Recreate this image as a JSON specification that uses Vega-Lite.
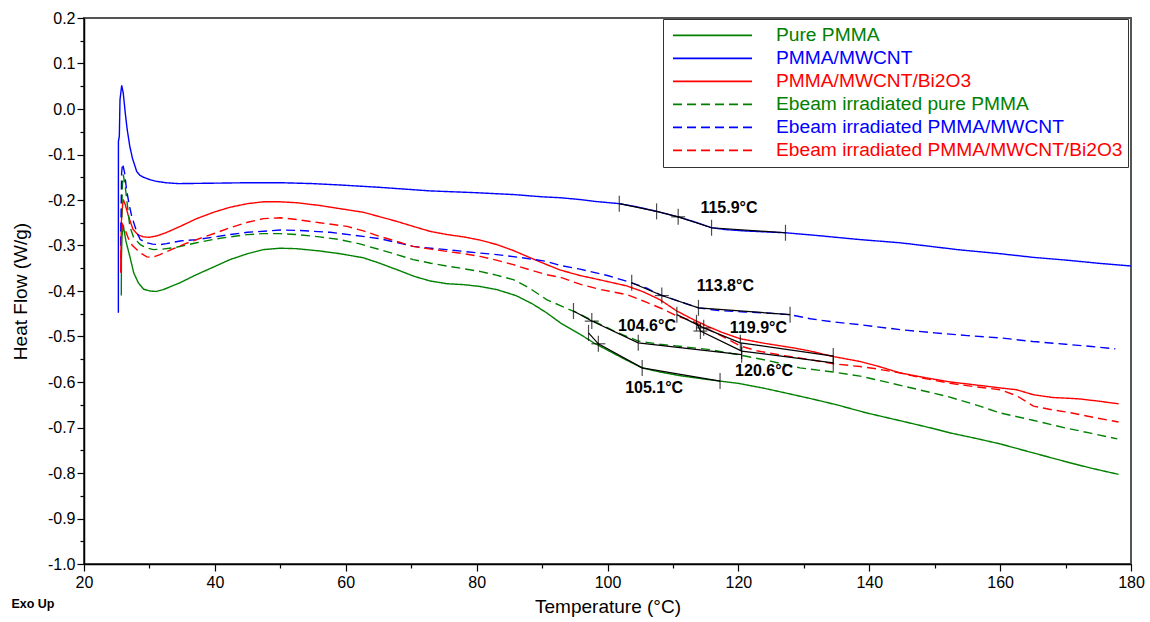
{
"$schema":"https://vega.github.io/schema/vega-lite/v6.json",
"width":1047,"height":546,
"autosize":{"type":"none"},
"padding":{"left":84,"top":18,"right":19,"bottom":58},
"config":{"view":{"stroke":"#555","strokeWidth":2},"font":"Liberation Sans",
"axis":{"labelFont":"Liberation Sans","titleFont":"Liberation Sans","labelFontSize":16,"titleFontSize":19,"titleFontWeight":"normal","labelColor":"black","titleColor":"black","domainColor":"black","tickColor":"black","grid":false,"domainWidth":1.5,"tickWidth":1.2}},
"title":{"text":"Exo Up","orient":"bottom","anchor":"start","frame":"bounds","fontSize":12.5,"fontWeight":"bold","font":"Liberation Sans","color":"black","offset":0,"dy":-18},
"datasets":{
"curves":[
{"s":"Pure PMMA","t":25.7,"v":-0.41},{"s":"Pure PMMA","t":25.72,"v":-0.33},{"s":"Pure PMMA","t":25.8,"v":-0.28},{"s":"Pure PMMA","t":26.0,"v":-0.255},{"s":"Pure PMMA","t":26.4,"v":-0.29},{"s":"Pure PMMA","t":27.0,"v":-0.324},{"s":"Pure PMMA","t":27.6,"v":-0.36},{"s":"Pure PMMA","t":28.3,"v":-0.382},{"s":"Pure PMMA","t":29.1,"v":-0.396},{"s":"Pure PMMA","t":30.1,"v":-0.4},{"s":"Pure PMMA","t":31.0,"v":-0.401},{"s":"Pure PMMA","t":32.1,"v":-0.397},{"s":"Pure PMMA","t":34.5,"v":-0.383},{"s":"Pure PMMA","t":37.2,"v":-0.364},{"s":"Pure PMMA","t":40,"v":-0.346},{"s":"Pure PMMA","t":42.3,"v":-0.331},{"s":"Pure PMMA","t":45,"v":-0.318},{"s":"Pure PMMA","t":47.4,"v":-0.309},{"s":"Pure PMMA","t":50,"v":-0.306},{"s":"Pure PMMA","t":52.5,"v":-0.307},{"s":"Pure PMMA","t":56,"v":-0.312},{"s":"Pure PMMA","t":59.1,"v":-0.318},{"s":"Pure PMMA","t":62.7,"v":-0.327},{"s":"Pure PMMA","t":65,"v":-0.338},{"s":"Pure PMMA","t":67.8,"v":-0.353},{"s":"Pure PMMA","t":70.5,"v":-0.368},{"s":"Pure PMMA","t":72.9,"v":-0.378},{"s":"Pure PMMA","t":75.5,"v":-0.384},{"s":"Pure PMMA","t":78,"v":-0.386},{"s":"Pure PMMA","t":80.5,"v":-0.39},{"s":"Pure PMMA","t":83.1,"v":-0.397},{"s":"Pure PMMA","t":86,"v":-0.41},{"s":"Pure PMMA","t":88.5,"v":-0.428},{"s":"Pure PMMA","t":90.7,"v":-0.448},{"s":"Pure PMMA","t":92.8,"v":-0.47},{"s":"Pure PMMA","t":95.8,"v":-0.495},{"s":"Pure PMMA","t":97.9,"v":-0.514},{"s":"Pure PMMA","t":100,"v":-0.53},{"s":"Pure PMMA","t":102.5,"v":-0.549},{"s":"Pure PMMA","t":105.3,"v":-0.569},{"s":"Pure PMMA","t":108,"v":-0.578},{"s":"Pure PMMA","t":111,"v":-0.586},{"s":"Pure PMMA","t":114,"v":-0.592},{"s":"Pure PMMA","t":117.2,"v":-0.598},{"s":"Pure PMMA","t":120,"v":-0.603},{"s":"Pure PMMA","t":124,"v":-0.614},{"s":"Pure PMMA","t":127.5,"v":-0.625},{"s":"Pure PMMA","t":131.5,"v":-0.638},{"s":"Pure PMMA","t":135,"v":-0.65},{"s":"Pure PMMA","t":139.6,"v":-0.668},{"s":"Pure PMMA","t":145,"v":-0.686},{"s":"Pure PMMA","t":150,"v":-0.703},{"s":"Pure PMMA","t":152.4,"v":-0.712},{"s":"Pure PMMA","t":156,"v":-0.723},{"s":"Pure PMMA","t":160,"v":-0.736},{"s":"Pure PMMA","t":165.1,"v":-0.756},{"s":"Pure PMMA","t":170,"v":-0.775},{"s":"Pure PMMA","t":173.8,"v":-0.789},{"s":"Pure PMMA","t":178.1,"v":-0.803},
{"s":"PMMA/MWCNT","t":25.25,"v":-0.448},{"s":"PMMA/MWCNT","t":25.26,"v":-0.071},{"s":"PMMA/MWCNT","t":25.4,"v":-0.06},{"s":"PMMA/MWCNT","t":25.5,"v":0.02},{"s":"PMMA/MWCNT","t":25.76,"v":0.052},{"s":"PMMA/MWCNT","t":26.0,"v":0.035},{"s":"PMMA/MWCNT","t":26.3,"v":-0.008},{"s":"PMMA/MWCNT","t":26.6,"v":-0.045},{"s":"PMMA/MWCNT","t":27.0,"v":-0.082},{"s":"PMMA/MWCNT","t":27.4,"v":-0.108},{"s":"PMMA/MWCNT","t":27.8,"v":-0.126},{"s":"PMMA/MWCNT","t":28.05,"v":-0.137},{"s":"PMMA/MWCNT","t":28.5,"v":-0.145},{"s":"PMMA/MWCNT","t":29.1,"v":-0.15},{"s":"PMMA/MWCNT","t":30,"v":-0.155},{"s":"PMMA/MWCNT","t":31.1,"v":-0.159},{"s":"PMMA/MWCNT","t":32.5,"v":-0.162},{"s":"PMMA/MWCNT","t":34.4,"v":-0.164},{"s":"PMMA/MWCNT","t":40,"v":-0.163},{"s":"PMMA/MWCNT","t":45,"v":-0.162},{"s":"PMMA/MWCNT","t":50,"v":-0.162},{"s":"PMMA/MWCNT","t":55,"v":-0.164},{"s":"PMMA/MWCNT","t":59.1,"v":-0.167},{"s":"PMMA/MWCNT","t":65,"v":-0.172},{"s":"PMMA/MWCNT","t":72.9,"v":-0.18},{"s":"PMMA/MWCNT","t":80,"v":-0.184},{"s":"PMMA/MWCNT","t":85.6,"v":-0.188},{"s":"PMMA/MWCNT","t":90,"v":-0.193},{"s":"PMMA/MWCNT","t":92.8,"v":-0.195},{"s":"PMMA/MWCNT","t":95.8,"v":-0.199},{"s":"PMMA/MWCNT","t":98,"v":-0.203},{"s":"PMMA/MWCNT","t":101.8,"v":-0.208},{"s":"PMMA/MWCNT","t":104.5,"v":-0.215},{"s":"PMMA/MWCNT","t":107.5,"v":-0.225},{"s":"PMMA/MWCNT","t":110.8,"v":-0.237},{"s":"PMMA/MWCNT","t":113.5,"v":-0.249},{"s":"PMMA/MWCNT","t":115.9,"v":-0.261},{"s":"PMMA/MWCNT","t":118,"v":-0.265},{"s":"PMMA/MWCNT","t":121,"v":-0.268},{"s":"PMMA/MWCNT","t":124,"v":-0.27},{"s":"PMMA/MWCNT","t":127.2,"v":-0.272},{"s":"PMMA/MWCNT","t":132,"v":-0.278},{"s":"PMMA/MWCNT","t":138.6,"v":-0.287},{"s":"PMMA/MWCNT","t":144.7,"v":-0.294},{"s":"PMMA/MWCNT","t":150,"v":-0.303},{"s":"PMMA/MWCNT","t":153.4,"v":-0.309},{"s":"PMMA/MWCNT","t":160,"v":-0.318},{"s":"PMMA/MWCNT","t":165,"v":-0.326},{"s":"PMMA/MWCNT","t":170,"v":-0.332},{"s":"PMMA/MWCNT","t":175,"v":-0.339},{"s":"PMMA/MWCNT","t":180,"v":-0.345},
{"s":"PMMA/MWCNT/Bi2O3","t":25.6,"v":-0.36},{"s":"PMMA/MWCNT/Bi2O3","t":25.7,"v":-0.25},{"s":"PMMA/MWCNT/Bi2O3","t":25.9,"v":-0.21},{"s":"PMMA/MWCNT/Bi2O3","t":26.0,"v":-0.199},{"s":"PMMA/MWCNT/Bi2O3","t":26.3,"v":-0.21},{"s":"PMMA/MWCNT/Bi2O3","t":26.8,"v":-0.236},{"s":"PMMA/MWCNT/Bi2O3","t":27.5,"v":-0.265},{"s":"PMMA/MWCNT/Bi2O3","t":28.3,"v":-0.277},{"s":"PMMA/MWCNT/Bi2O3","t":29.1,"v":-0.281},{"s":"PMMA/MWCNT/Bi2O3","t":30,"v":-0.282},{"s":"PMMA/MWCNT/Bi2O3","t":31.1,"v":-0.279},{"s":"PMMA/MWCNT/Bi2O3","t":32.5,"v":-0.272},{"s":"PMMA/MWCNT/Bi2O3","t":34.7,"v":-0.258},{"s":"PMMA/MWCNT/Bi2O3","t":37.2,"v":-0.241},{"s":"PMMA/MWCNT/Bi2O3","t":40,"v":-0.226},{"s":"PMMA/MWCNT/Bi2O3","t":42.3,"v":-0.216},{"s":"PMMA/MWCNT/Bi2O3","t":45,"v":-0.208},{"s":"PMMA/MWCNT/Bi2O3","t":47.4,"v":-0.204},{"s":"PMMA/MWCNT/Bi2O3","t":50,"v":-0.204},{"s":"PMMA/MWCNT/Bi2O3","t":52.5,"v":-0.206},{"s":"PMMA/MWCNT/Bi2O3","t":56,"v":-0.212},{"s":"PMMA/MWCNT/Bi2O3","t":59.1,"v":-0.219},{"s":"PMMA/MWCNT/Bi2O3","t":62.7,"v":-0.227},{"s":"PMMA/MWCNT/Bi2O3","t":65,"v":-0.236},{"s":"PMMA/MWCNT/Bi2O3","t":67.8,"v":-0.247},{"s":"PMMA/MWCNT/Bi2O3","t":70.3,"v":-0.258},{"s":"PMMA/MWCNT/Bi2O3","t":72.9,"v":-0.269},{"s":"PMMA/MWCNT/Bi2O3","t":75.5,"v":-0.276},{"s":"PMMA/MWCNT/Bi2O3","t":78,"v":-0.281},{"s":"PMMA/MWCNT/Bi2O3","t":80.5,"v":-0.288},{"s":"PMMA/MWCNT/Bi2O3","t":83.1,"v":-0.298},{"s":"PMMA/MWCNT/Bi2O3","t":85.6,"v":-0.311},{"s":"PMMA/MWCNT/Bi2O3","t":88.2,"v":-0.327},{"s":"PMMA/MWCNT/Bi2O3","t":90.7,"v":-0.342},{"s":"PMMA/MWCNT/Bi2O3","t":92.8,"v":-0.354},{"s":"PMMA/MWCNT/Bi2O3","t":95.8,"v":-0.366},{"s":"PMMA/MWCNT/Bi2O3","t":99,"v":-0.376},{"s":"PMMA/MWCNT/Bi2O3","t":103,"v":-0.389},{"s":"PMMA/MWCNT/Bi2O3","t":105.5,"v":-0.402},{"s":"PMMA/MWCNT/Bi2O3","t":108,"v":-0.419},{"s":"PMMA/MWCNT/Bi2O3","t":110.6,"v":-0.444},{"s":"PMMA/MWCNT/Bi2O3","t":113,"v":-0.462},{"s":"PMMA/MWCNT/Bi2O3","t":115.2,"v":-0.477},{"s":"PMMA/MWCNT/Bi2O3","t":117.5,"v":-0.491},{"s":"PMMA/MWCNT/Bi2O3","t":120.3,"v":-0.505},{"s":"PMMA/MWCNT/Bi2O3","t":124,"v":-0.515},{"s":"PMMA/MWCNT/Bi2O3","t":128.4,"v":-0.525},{"s":"PMMA/MWCNT/Bi2O3","t":131,"v":-0.532},{"s":"PMMA/MWCNT/Bi2O3","t":134.5,"v":-0.544},{"s":"PMMA/MWCNT/Bi2O3","t":138.6,"v":-0.555},{"s":"PMMA/MWCNT/Bi2O3","t":141.5,"v":-0.566},{"s":"PMMA/MWCNT/Bi2O3","t":144.7,"v":-0.58},{"s":"PMMA/MWCNT/Bi2O3","t":148,"v":-0.589},{"s":"PMMA/MWCNT/Bi2O3","t":152.4,"v":-0.6},{"s":"PMMA/MWCNT/Bi2O3","t":156,"v":-0.606},{"s":"PMMA/MWCNT/Bi2O3","t":160,"v":-0.613},{"s":"PMMA/MWCNT/Bi2O3","t":162.5,"v":-0.617},{"s":"PMMA/MWCNT/Bi2O3","t":165.1,"v":-0.628},{"s":"PMMA/MWCNT/Bi2O3","t":168,"v":-0.634},{"s":"PMMA/MWCNT/Bi2O3","t":172,"v":-0.637},{"s":"PMMA/MWCNT/Bi2O3","t":175,"v":-0.642},{"s":"PMMA/MWCNT/Bi2O3","t":178.1,"v":-0.648},
{"s":"Ebeam irradiated pure PMMA","t":25.7,"v":-0.3},{"s":"Ebeam irradiated pure PMMA","t":25.85,"v":-0.17},{"s":"Ebeam irradiated pure PMMA","t":26.0,"v":-0.144},{"s":"Ebeam irradiated pure PMMA","t":26.3,"v":-0.17},{"s":"Ebeam irradiated pure PMMA","t":26.7,"v":-0.22},{"s":"Ebeam irradiated pure PMMA","t":27.0,"v":-0.258},{"s":"Ebeam irradiated pure PMMA","t":27.6,"v":-0.283},{"s":"Ebeam irradiated pure PMMA","t":28.6,"v":-0.298},{"s":"Ebeam irradiated pure PMMA","t":29.5,"v":-0.305},{"s":"Ebeam irradiated pure PMMA","t":30.6,"v":-0.309},{"s":"Ebeam irradiated pure PMMA","t":32,"v":-0.308},{"s":"Ebeam irradiated pure PMMA","t":33.7,"v":-0.305},{"s":"Ebeam irradiated pure PMMA","t":37.2,"v":-0.294},{"s":"Ebeam irradiated pure PMMA","t":40,"v":-0.286},{"s":"Ebeam irradiated pure PMMA","t":42.3,"v":-0.281},{"s":"Ebeam irradiated pure PMMA","t":45,"v":-0.276},{"s":"Ebeam irradiated pure PMMA","t":47.4,"v":-0.274},{"s":"Ebeam irradiated pure PMMA","t":50,"v":-0.274},{"s":"Ebeam irradiated pure PMMA","t":52.5,"v":-0.276},{"s":"Ebeam irradiated pure PMMA","t":56,"v":-0.281},{"s":"Ebeam irradiated pure PMMA","t":59.1,"v":-0.287},{"s":"Ebeam irradiated pure PMMA","t":62,"v":-0.296},{"s":"Ebeam irradiated pure PMMA","t":65.2,"v":-0.309},{"s":"Ebeam irradiated pure PMMA","t":67.8,"v":-0.32},{"s":"Ebeam irradiated pure PMMA","t":70.3,"v":-0.331},{"s":"Ebeam irradiated pure PMMA","t":73,"v":-0.339},{"s":"Ebeam irradiated pure PMMA","t":75.4,"v":-0.345},{"s":"Ebeam irradiated pure PMMA","t":78,"v":-0.351},{"s":"Ebeam irradiated pure PMMA","t":80.5,"v":-0.357},{"s":"Ebeam irradiated pure PMMA","t":83,"v":-0.365},{"s":"Ebeam irradiated pure PMMA","t":85.6,"v":-0.375},{"s":"Ebeam irradiated pure PMMA","t":88,"v":-0.393},{"s":"Ebeam irradiated pure PMMA","t":90.7,"v":-0.419},{"s":"Ebeam irradiated pure PMMA","t":92.8,"v":-0.432},{"s":"Ebeam irradiated pure PMMA","t":95.5,"v":-0.449},{"s":"Ebeam irradiated pure PMMA","t":97.9,"v":-0.466},{"s":"Ebeam irradiated pure PMMA","t":101,"v":-0.488},{"s":"Ebeam irradiated pure PMMA","t":104.7,"v":-0.51},{"s":"Ebeam irradiated pure PMMA","t":108,"v":-0.517},{"s":"Ebeam irradiated pure PMMA","t":112,"v":-0.523},{"s":"Ebeam irradiated pure PMMA","t":115.7,"v":-0.529},{"s":"Ebeam irradiated pure PMMA","t":120,"v":-0.54},{"s":"Ebeam irradiated pure PMMA","t":124.9,"v":-0.554},{"s":"Ebeam irradiated pure PMMA","t":129.4,"v":-0.569},{"s":"Ebeam irradiated pure PMMA","t":134.5,"v":-0.578},{"s":"Ebeam irradiated pure PMMA","t":138.6,"v":-0.587},{"s":"Ebeam irradiated pure PMMA","t":142,"v":-0.598},{"s":"Ebeam irradiated pure PMMA","t":147.3,"v":-0.616},{"s":"Ebeam irradiated pure PMMA","t":152,"v":-0.632},{"s":"Ebeam irradiated pure PMMA","t":156,"v":-0.649},{"s":"Ebeam irradiated pure PMMA","t":160,"v":-0.668},{"s":"Ebeam irradiated pure PMMA","t":165,"v":-0.684},{"s":"Ebeam irradiated pure PMMA","t":170,"v":-0.701},{"s":"Ebeam irradiated pure PMMA","t":174,"v":-0.713},{"s":"Ebeam irradiated pure PMMA","t":177.9,"v":-0.725},
{"s":"Ebeam irradiated PMMA/MWCNT","t":25.6,"v":-0.3},{"s":"Ebeam irradiated PMMA/MWCNT","t":25.75,"v":-0.14},{"s":"Ebeam irradiated PMMA/MWCNT","t":25.9,"v":-0.12},{"s":"Ebeam irradiated PMMA/MWCNT","t":26.2,"v":-0.14},{"s":"Ebeam irradiated PMMA/MWCNT","t":26.5,"v":-0.177},{"s":"Ebeam irradiated PMMA/MWCNT","t":26.9,"v":-0.21},{"s":"Ebeam irradiated PMMA/MWCNT","t":27.3,"v":-0.236},{"s":"Ebeam irradiated PMMA/MWCNT","t":28.1,"v":-0.272},{"s":"Ebeam irradiated PMMA/MWCNT","t":28.6,"v":-0.287},{"s":"Ebeam irradiated PMMA/MWCNT","t":29.6,"v":-0.294},{"s":"Ebeam irradiated PMMA/MWCNT","t":30.5,"v":-0.297},{"s":"Ebeam irradiated PMMA/MWCNT","t":31.6,"v":-0.298},{"s":"Ebeam irradiated PMMA/MWCNT","t":32.6,"v":-0.296},{"s":"Ebeam irradiated PMMA/MWCNT","t":34.7,"v":-0.29},{"s":"Ebeam irradiated PMMA/MWCNT","t":37.2,"v":-0.287},{"s":"Ebeam irradiated PMMA/MWCNT","t":40,"v":-0.281},{"s":"Ebeam irradiated PMMA/MWCNT","t":42.3,"v":-0.276},{"s":"Ebeam irradiated PMMA/MWCNT","t":45,"v":-0.271},{"s":"Ebeam irradiated PMMA/MWCNT","t":50,"v":-0.266},{"s":"Ebeam irradiated PMMA/MWCNT","t":53,"v":-0.267},{"s":"Ebeam irradiated PMMA/MWCNT","t":57.6,"v":-0.271},{"s":"Ebeam irradiated PMMA/MWCNT","t":61,"v":-0.277},{"s":"Ebeam irradiated PMMA/MWCNT","t":65.2,"v":-0.285},{"s":"Ebeam irradiated PMMA/MWCNT","t":68,"v":-0.294},{"s":"Ebeam irradiated PMMA/MWCNT","t":70.3,"v":-0.302},{"s":"Ebeam irradiated PMMA/MWCNT","t":73,"v":-0.306},{"s":"Ebeam irradiated PMMA/MWCNT","t":75.4,"v":-0.309},{"s":"Ebeam irradiated PMMA/MWCNT","t":80,"v":-0.316},{"s":"Ebeam irradiated PMMA/MWCNT","t":83.1,"v":-0.32},{"s":"Ebeam irradiated PMMA/MWCNT","t":87,"v":-0.327},{"s":"Ebeam irradiated PMMA/MWCNT","t":90.7,"v":-0.335},{"s":"Ebeam irradiated PMMA/MWCNT","t":92.8,"v":-0.344},{"s":"Ebeam irradiated PMMA/MWCNT","t":95.8,"v":-0.352},{"s":"Ebeam irradiated PMMA/MWCNT","t":100,"v":-0.366},{"s":"Ebeam irradiated PMMA/MWCNT","t":103.7,"v":-0.382},{"s":"Ebeam irradiated PMMA/MWCNT","t":106,"v":-0.394},{"s":"Ebeam irradiated PMMA/MWCNT","t":108,"v":-0.408},{"s":"Ebeam irradiated PMMA/MWCNT","t":111,"v":-0.423},{"s":"Ebeam irradiated PMMA/MWCNT","t":113.9,"v":-0.437},{"s":"Ebeam irradiated PMMA/MWCNT","t":117,"v":-0.443},{"s":"Ebeam irradiated PMMA/MWCNT","t":121,"v":-0.446},{"s":"Ebeam irradiated PMMA/MWCNT","t":124,"v":-0.448},{"s":"Ebeam irradiated PMMA/MWCNT","t":127.9,"v":-0.452},{"s":"Ebeam irradiated PMMA/MWCNT","t":131,"v":-0.461},{"s":"Ebeam irradiated PMMA/MWCNT","t":134.5,"v":-0.468},{"s":"Ebeam irradiated PMMA/MWCNT","t":138.6,"v":-0.474},{"s":"Ebeam irradiated PMMA/MWCNT","t":144.7,"v":-0.485},{"s":"Ebeam irradiated PMMA/MWCNT","t":150,"v":-0.492},{"s":"Ebeam irradiated PMMA/MWCNT","t":155,"v":-0.498},{"s":"Ebeam irradiated PMMA/MWCNT","t":160,"v":-0.503},{"s":"Ebeam irradiated PMMA/MWCNT","t":165,"v":-0.511},{"s":"Ebeam irradiated PMMA/MWCNT","t":170,"v":-0.517},{"s":"Ebeam irradiated PMMA/MWCNT","t":174,"v":-0.522},{"s":"Ebeam irradiated PMMA/MWCNT","t":177.6,"v":-0.527},
{"s":"Ebeam irradiated PMMA/MWCNT/Bi2O3","t":25.6,"v":-0.33},{"s":"Ebeam irradiated PMMA/MWCNT/Bi2O3","t":25.75,"v":-0.27},{"s":"Ebeam irradiated PMMA/MWCNT/Bi2O3","t":25.9,"v":-0.254},{"s":"Ebeam irradiated PMMA/MWCNT/Bi2O3","t":26.2,"v":-0.262},{"s":"Ebeam irradiated PMMA/MWCNT/Bi2O3","t":26.8,"v":-0.285},{"s":"Ebeam irradiated PMMA/MWCNT/Bi2O3","t":27.4,"v":-0.3},{"s":"Ebeam irradiated PMMA/MWCNT/Bi2O3","t":28.05,"v":-0.309},{"s":"Ebeam irradiated PMMA/MWCNT/Bi2O3","t":28.8,"v":-0.318},{"s":"Ebeam irradiated PMMA/MWCNT/Bi2O3","t":29.6,"v":-0.325},{"s":"Ebeam irradiated PMMA/MWCNT/Bi2O3","t":30.5,"v":-0.326},{"s":"Ebeam irradiated PMMA/MWCNT/Bi2O3","t":31.6,"v":-0.32},{"s":"Ebeam irradiated PMMA/MWCNT/Bi2O3","t":33.5,"v":-0.308},{"s":"Ebeam irradiated PMMA/MWCNT/Bi2O3","t":35.5,"v":-0.296},{"s":"Ebeam irradiated PMMA/MWCNT/Bi2O3","t":37.2,"v":-0.287},{"s":"Ebeam irradiated PMMA/MWCNT/Bi2O3","t":40,"v":-0.273},{"s":"Ebeam irradiated PMMA/MWCNT/Bi2O3","t":42.3,"v":-0.261},{"s":"Ebeam irradiated PMMA/MWCNT/Bi2O3","t":45,"v":-0.249},{"s":"Ebeam irradiated PMMA/MWCNT/Bi2O3","t":47.4,"v":-0.241},{"s":"Ebeam irradiated PMMA/MWCNT/Bi2O3","t":50,"v":-0.239},{"s":"Ebeam irradiated PMMA/MWCNT/Bi2O3","t":52.5,"v":-0.243},{"s":"Ebeam irradiated PMMA/MWCNT/Bi2O3","t":56,"v":-0.25},{"s":"Ebeam irradiated PMMA/MWCNT/Bi2O3","t":60.2,"v":-0.258},{"s":"Ebeam irradiated PMMA/MWCNT/Bi2O3","t":62.7,"v":-0.268},{"s":"Ebeam irradiated PMMA/MWCNT/Bi2O3","t":65.2,"v":-0.28},{"s":"Ebeam irradiated PMMA/MWCNT/Bi2O3","t":67.8,"v":-0.291},{"s":"Ebeam irradiated PMMA/MWCNT/Bi2O3","t":70.3,"v":-0.302},{"s":"Ebeam irradiated PMMA/MWCNT/Bi2O3","t":73,"v":-0.308},{"s":"Ebeam irradiated PMMA/MWCNT/Bi2O3","t":75.4,"v":-0.313},{"s":"Ebeam irradiated PMMA/MWCNT/Bi2O3","t":78,"v":-0.318},{"s":"Ebeam irradiated PMMA/MWCNT/Bi2O3","t":80.5,"v":-0.324},{"s":"Ebeam irradiated PMMA/MWCNT/Bi2O3","t":83,"v":-0.332},{"s":"Ebeam irradiated PMMA/MWCNT/Bi2O3","t":85.6,"v":-0.342},{"s":"Ebeam irradiated PMMA/MWCNT/Bi2O3","t":88,"v":-0.353},{"s":"Ebeam irradiated PMMA/MWCNT/Bi2O3","t":90.7,"v":-0.364},{"s":"Ebeam irradiated PMMA/MWCNT/Bi2O3","t":92.8,"v":-0.37},{"s":"Ebeam irradiated PMMA/MWCNT/Bi2O3","t":95.8,"v":-0.385},{"s":"Ebeam irradiated PMMA/MWCNT/Bi2O3","t":99,"v":-0.397},{"s":"Ebeam irradiated PMMA/MWCNT/Bi2O3","t":103,"v":-0.408},{"s":"Ebeam irradiated PMMA/MWCNT/Bi2O3","t":106,"v":-0.425},{"s":"Ebeam irradiated PMMA/MWCNT/Bi2O3","t":108.5,"v":-0.44},{"s":"Ebeam irradiated PMMA/MWCNT/Bi2O3","t":110.6,"v":-0.455},{"s":"Ebeam irradiated PMMA/MWCNT/Bi2O3","t":113,"v":-0.466},{"s":"Ebeam irradiated PMMA/MWCNT/Bi2O3","t":115.5,"v":-0.485},{"s":"Ebeam irradiated PMMA/MWCNT/Bi2O3","t":118,"v":-0.503},{"s":"Ebeam irradiated PMMA/MWCNT/Bi2O3","t":120.3,"v":-0.521},{"s":"Ebeam irradiated PMMA/MWCNT/Bi2O3","t":123,"v":-0.532},{"s":"Ebeam irradiated PMMA/MWCNT/Bi2O3","t":127,"v":-0.542},{"s":"Ebeam irradiated PMMA/MWCNT/Bi2O3","t":131,"v":-0.551},{"s":"Ebeam irradiated PMMA/MWCNT/Bi2O3","t":134.5,"v":-0.56},{"s":"Ebeam irradiated PMMA/MWCNT/Bi2O3","t":138.6,"v":-0.566},{"s":"Ebeam irradiated PMMA/MWCNT/Bi2O3","t":141.5,"v":-0.572},{"s":"Ebeam irradiated PMMA/MWCNT/Bi2O3","t":144.7,"v":-0.58},{"s":"Ebeam irradiated PMMA/MWCNT/Bi2O3","t":148,"v":-0.591},{"s":"Ebeam irradiated PMMA/MWCNT/Bi2O3","t":152.4,"v":-0.603},{"s":"Ebeam irradiated PMMA/MWCNT/Bi2O3","t":156,"v":-0.61},{"s":"Ebeam irradiated PMMA/MWCNT/Bi2O3","t":160,"v":-0.617},{"s":"Ebeam irradiated PMMA/MWCNT/Bi2O3","t":162.5,"v":-0.63},{"s":"Ebeam irradiated PMMA/MWCNT/Bi2O3","t":165.1,"v":-0.653},{"s":"Ebeam irradiated PMMA/MWCNT/Bi2O3","t":167.5,"v":-0.66},{"s":"Ebeam irradiated PMMA/MWCNT/Bi2O3","t":170.2,"v":-0.666},{"s":"Ebeam irradiated PMMA/MWCNT/Bi2O3","t":174,"v":-0.677},{"s":"Ebeam irradiated PMMA/MWCNT/Bi2O3","t":178.1,"v":-0.688}
],
"tg":[
{"g":1,"t":101.8,"v":-0.208,"c":0},{"g":1,"t":107.5,"v":-0.225,"c":0},{"g":1,"t":110.8,"v":-0.237,"c":1},{"g":1,"t":115.9,"v":-0.261,"c":0},{"g":1,"t":127.2,"v":-0.272,"c":0},
{"g":2,"t":103.7,"v":-0.382,"c":0},{"g":2,"t":108.3,"v":-0.41,"c":1},{"g":2,"t":113.9,"v":-0.437,"c":0},{"g":2,"t":127.9,"v":-0.452,"c":0},
{"g":3,"t":94.8,"v":-0.444,"c":0},{"g":3,"t":97.6,"v":-0.466,"c":1},{"g":3,"t":104.7,"v":-0.514,"c":0},{"g":3,"t":120.5,"v":-0.54,"c":0},
{"g":4,"t":97.1,"v":-0.492,"c":0},{"g":4,"t":98.6,"v":-0.516,"c":1},{"g":4,"t":105.3,"v":-0.569,"c":0},{"g":4,"t":117.2,"v":-0.598,"c":0},
{"g":5,"t":110.6,"v":-0.452,"c":0},{"g":5,"t":114.7,"v":-0.481,"c":1},{"g":5,"t":120.3,"v":-0.514,"c":0},{"g":5,"t":134.5,"v":-0.543,"c":0},
{"g":6,"t":113.6,"v":-0.47,"c":0},{"g":6,"t":114.2,"v":-0.488,"c":1},{"g":6,"t":120.5,"v":-0.532,"c":0},{"g":6,"t":134.5,"v":-0.558,"c":0}
],
"labels":[
{"txt":"115.9°C","t":114.2,"v":-0.217},{"txt":"113.8°C","t":113.65,"v":-0.389},{"txt":"104.6°C","t":101.6,"v":-0.477},{"txt":"105.1°C","t":102.7,"v":-0.613},{"txt":"119.9°C","t":118.7,"v":-0.481},{"txt":"120.6°C","t":119.5,"v":-0.576}
]
},
"resolve":{"axis":{"x":"independent","y":"independent"}},
"layer":[
{"data":{"name":"curves"},
 "mark":{"type":"line","strokeWidth":1.4},
 "encoding":{
  "x":{"field":"t","type":"quantitative","scale":{"domain":[20,180],"nice":false,"zero":false},
       "axis":{"orient":"bottom","values":[20,40,60,80,100,120,140,160,180],"tickSize":7,"labelPadding":3,"labelFlush":false,"title":"Temperature (°C)","titlePadding":7}},
  "y":{"field":"v","type":"quantitative","scale":{"domain":[-1,0.2],"nice":false,"zero":false},
       "axis":{"orient":"left","values":[0.2,0.1,0,-0.1,-0.2,-0.3,-0.4,-0.5,-0.6,-0.7,-0.8,-0.9,-1],"tickSize":7,"labelPadding":2,"labelFlush":false,"labelExpr":"replace(format(datum.value,'.1f'),'\u2212','-')","title":"Heat Flow (W/g)","titlePadding":17}},
  "color":{"field":"s","type":"nominal",
    "scale":{"domain":["Pure PMMA","PMMA/MWCNT","PMMA/MWCNT/Bi2O3","Ebeam irradiated pure PMMA","Ebeam irradiated PMMA/MWCNT","Ebeam irradiated PMMA/MWCNT/Bi2O3"],"range":["#008000","#0000ff","#ff0000","#008000","#0000ff","#ff0000"]},
    "legend":{"title":null,"orient":"none","legendX":579,"legendY":1,"strokeColor":"#333","fillColor":"white","padding":5,"symbolType":"stroke","symbolSize":6241,"symbolOffset":4,"symbolStrokeWidth":1.8,"labelFont":"Liberation Sans","labelFontSize":19.2,"labelOffset":23,"labelLimit":600,"clipHeight":22.7,"rowPadding":0,
      "encode":{"labels":{"update":{"fill":{"scale":"color","field":"value"}}}}}},
  "strokeDash":{"field":"s","type":"nominal",
    "scale":{"domain":["Pure PMMA","PMMA/MWCNT","PMMA/MWCNT/Bi2O3","Ebeam irradiated pure PMMA","Ebeam irradiated PMMA/MWCNT","Ebeam irradiated PMMA/MWCNT/Bi2O3"],"range":[[1,0],[1,0],[1,0],[9,5],[9,5],[9,5]]},
    "legend":{"title":null,"orient":"none","legendX":579,"legendY":1,"strokeColor":"#333","fillColor":"white","padding":5,"symbolType":"stroke","symbolSize":6241,"symbolOffset":4,"symbolStrokeWidth":1.8,"labelFont":"Liberation Sans","labelFontSize":19.2,"labelOffset":23,"labelLimit":600,"clipHeight":22.7,"rowPadding":0}}
 }},
{"data":{"name":"tg"},
 "mark":{"type":"line","color":"black","strokeWidth":1.2},
 "encoding":{
  "x":{"field":"t","type":"quantitative","scale":{"domain":[20,180],"nice":false,"zero":false},
       "axis":{"orient":"bottom","values":[30,50,70,90,110,130,150,170],"tickSize":4,"labels":false,"domain":false,"title":null}},
  "y":{"field":"v","type":"quantitative","scale":{"domain":[-1,0.2],"nice":false,"zero":false},
       "axis":{"orient":"left","values":[0.15,0.05,-0.05,-0.15,-0.25,-0.35,-0.45,-0.55,-0.65,-0.75,-0.85,-0.95],"tickSize":4,"labels":false,"domain":false,"title":null}},
  "detail":{"field":"g","type":"nominal"}
 }},
{"data":{"name":"tg"},
 "mark":{"type":"tick","orient":"vertical","size":16,"thickness":1.2,"color":"black"},
 "encoding":{
  "x":{"field":"t","type":"quantitative","scale":{"domain":[20,180],"nice":false,"zero":false},"axis":null},
  "y":{"field":"v","type":"quantitative","scale":{"domain":[-1,0.2],"nice":false,"zero":false},"axis":null}
 }},
{"data":{"name":"tg"},
 "transform":[{"filter":"datum.c == 1"}],
 "mark":{"type":"tick","orient":"horizontal","size":14,"thickness":1.2,"color":"black"},
 "encoding":{
  "x":{"field":"t","type":"quantitative","scale":{"domain":[20,180],"nice":false,"zero":false},"axis":null},
  "y":{"field":"v","type":"quantitative","scale":{"domain":[-1,0.2],"nice":false,"zero":false},"axis":null}
 }},
{"data":{"name":"labels"},
 "mark":{"type":"text","align":"left","baseline":"middle","fontWeight":"bold","fontSize":16,"font":"Liberation Sans","color":"black"},
 "encoding":{
  "x":{"field":"t","type":"quantitative","scale":{"domain":[20,180],"nice":false,"zero":false},"axis":null},
  "y":{"field":"v","type":"quantitative","scale":{"domain":[-1,0.2],"nice":false,"zero":false},"axis":null},
  "text":{"field":"txt"}
 }}
]
}
